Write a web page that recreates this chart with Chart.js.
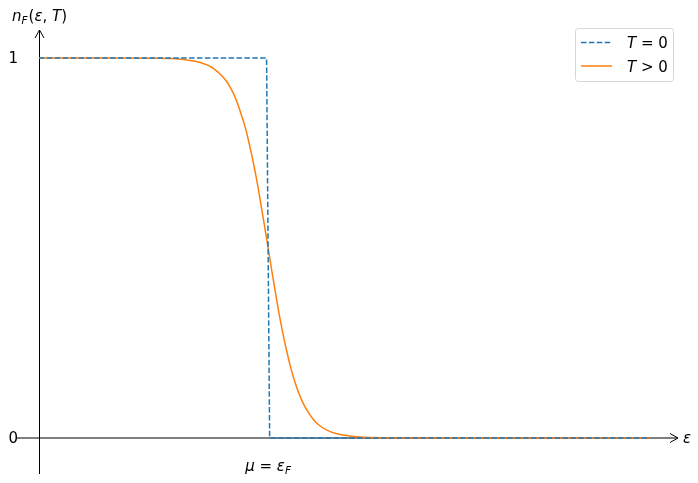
<!DOCTYPE html>
<html>
<head>
<meta charset="utf-8">
<script src="https://cdn.jsdelivr.net/npm/chart.js@4"></script>
<style>
  html, body { margin: 0; padding: 0; background: #fff; }
  #wrap { width: 698px; height: 483px; }
</style>
</head>
<body>
<div id="wrap"><canvas id="chart"></canvas></div>
<script>
// T = 0 step (sampled, so the drop is slightly slanted)
const stepX = [-3, -0.02, 0.02, 5];
const stepY = [1, 1, 0, 0];

// T > 0 curve
const fermiX = [-3, -2, -1.5, -1.2, -1.0, -0.9, -0.8, -0.75, -0.7, -0.65, -0.6, -0.55, -0.5,
                -0.45, -0.4, -0.35, -0.3, -0.25, -0.2, -0.15, -0.1, -0.05, 0,
                0.05, 0.1, 0.15, 0.2, 0.25, 0.3, 0.35, 0.4, 0.45, 0.5, 0.6, 0.7, 0.8, 0.9,
                1.0, 1.2, 1.5, 2, 5];
const fermiY = [1, 1, 0.9995, 0.998, 0.993, 0.989, 0.982, 0.977, 0.97, 0.962, 0.952, 0.94, 0.924,
                0.905, 0.88, 0.85, 0.818, 0.777, 0.731, 0.68, 0.622, 0.562, 0.5,
                0.438, 0.378, 0.32, 0.269, 0.223, 0.182, 0.148, 0.119, 0.095, 0.076, 0.047, 0.029, 0.018, 0.011,
                0.007, 0.0025, 0.0005, 0, 0];

const yTicks = [0, 1];
const yTickLabels = ["0", "1"];
const muTick = 0;

const FONT = '"DejaVu Sans", sans-serif';
const FS = 15;

function toPoints(xs, ys) {
    return xs.map((x, i) => ({ x: x, y: ys[i] }));
}

// draw a run of roman / italic / subscript pieces
function mathText(ctx, parts, x, y, align) {
    let total = 0;
    const widths = parts.map(p => {
        const fs = p.sub ? FS * 0.7 : FS;
        ctx.font = (p.it ? "italic " : "") + fs + "px " + FONT;
        const w = ctx.measureText(p.t).width + (p.gap || 0);
        total += w;
        return w;
    });
    let cx = x;
    if (align === "center") cx = x - total / 2;
    if (align === "right") cx = x - total;
    ctx.textAlign = "left";
    ctx.textBaseline = "alphabetic";
    parts.forEach((p, i) => {
        const fs = p.sub ? FS * 0.7 : FS;
        ctx.font = (p.it ? "italic " : "") + fs + "px " + FONT;
        ctx.fillText(p.t, cx, y + (p.sub ? 3 : 0));
        cx += widths[i];
    });
}

const axesPlugin = {
    id: "arrowAxes",
    beforeDatasetsDraw(chart) {
        const ctx = chart.ctx;
        const xs = chart.scales.x, ys = chart.scales.y;
        const area = chart.chartArea;
        const y0 = ys.getPixelForValue(0);
        const xAxis = Math.round(xs.getPixelForValue(-3)) + 0.5;
        ctx.save();
        ctx.strokeStyle = "#000";
        ctx.lineWidth = 1;
        // horizontal axis with open arrow
        ctx.beginPath();
        ctx.moveTo(area.left, y0);
        ctx.lineTo(area.right, y0);
        ctx.moveTo(area.right - 8, y0 - 4.5);
        ctx.lineTo(area.right, y0);
        ctx.lineTo(area.right - 8, y0 + 4.5);
        ctx.stroke();
        // vertical axis with open arrow
        ctx.beginPath();
        ctx.moveTo(xAxis, area.bottom);
        ctx.lineTo(xAxis, area.top);
        ctx.moveTo(xAxis - 4.5, area.top + 8);
        ctx.lineTo(xAxis, area.top);
        ctx.lineTo(xAxis + 4.5, area.top + 8);
        ctx.stroke();
        ctx.restore();
    },
    afterDraw(chart) {
        const ctx = chart.ctx;
        const xs = chart.scales.x, ys = chart.scales.y;
        const area = chart.chartArea;
        ctx.save();
        ctx.fillStyle = "#000";

        // y tick labels
        ctx.font = FS + "px " + FONT;
        ctx.textAlign = "right";
        ctx.textBaseline = "middle";
        yTicks.forEach((v, i) => {
            ctx.fillText(yTickLabels[i], 18, ys.getPixelForValue(v) + 1);
        });

        // axis labels
        mathText(ctx, [
            { t: "n", it: true }, { t: "F", it: true, sub: true, gap: 1 },
            { t: "(" }, { t: "ε", it: true }, { t: "," }, { t: " " }, { t: "T", it: true }, { t: ")" }
        ], 12, 21, "left");
        mathText(ctx, [{ t: "ε", it: true }], area.right + 5, ys.getPixelForValue(0) + 5, "left");
        mathText(ctx, [
            { t: "μ", it: true }, { t: " = " }, { t: "ε", it: true }, { t: "F", it: true, sub: true }
        ], xs.getPixelForValue(muTick), 471, "center");

        // legend
        const lx = 575.5, ly = 28.5, lw = 98, lh = 53;
        ctx.beginPath();
        ctx.roundRect(lx, ly, lw, lh, 3);
        ctx.fillStyle = "rgba(255,255,255,0.8)";
        ctx.fill();
        ctx.strokeStyle = "#d6d6d6";
        ctx.lineWidth = 1;
        ctx.stroke();

        const items = [
            { color: "#1f77b4", dash: [5.5, 2.4], y: 42.5, parts: [{ t: "T", it: true }, { t: " = 0" }] },
            { color: "#ff7f0e", dash: [], y: 66, parts: [{ t: "T", it: true }, { t: " > 0" }] }
        ];
        items.forEach(it => {
            ctx.beginPath();
            ctx.setLineDash(it.dash);
            ctx.strokeStyle = it.color;
            ctx.lineWidth = 1.5;
            ctx.moveTo(581, it.y);
            ctx.lineTo(612, it.y);
            ctx.stroke();
            ctx.setLineDash([]);
            ctx.fillStyle = "#000";
            mathText(ctx, it.parts, 627, it.y + 5.5, "left");
        });
        ctx.restore();
    }
};

new Chart(document.getElementById("chart"), {
    type: "line",
    data: {
        datasets: [
            {
                label: "T = 0",
                data: toPoints(stepX, stepY),
                borderColor: "#1f77b4",
                borderWidth: 1.5,
                borderDash: [5.5, 2.4],
                pointRadius: 0,
                tension: 0
            },
            {
                label: "T > 0",
                data: toPoints(fermiX, fermiY),
                borderColor: "#ff7f0e",
                borderWidth: 1.5,
                pointRadius: 0,
                cubicInterpolationMode: "monotone"
            }
        ]
    },
    options: {
        responsive: true,
        maintainAspectRatio: false,
        animation: false,
        layout: { padding: { left: 16, right: 20, top: 30, bottom: 9 } },
        plugins: {
            legend: { display: false },
            tooltip: { enabled: false }
        },
        scales: {
            x: { type: "linear", display: false, min: -3.301, max: 5.367 },
            y: { type: "linear", display: false, min: -0.0947, max: 1.0737 }
        }
    },
    plugins: [axesPlugin]
});
</script>
</body>
</html>
